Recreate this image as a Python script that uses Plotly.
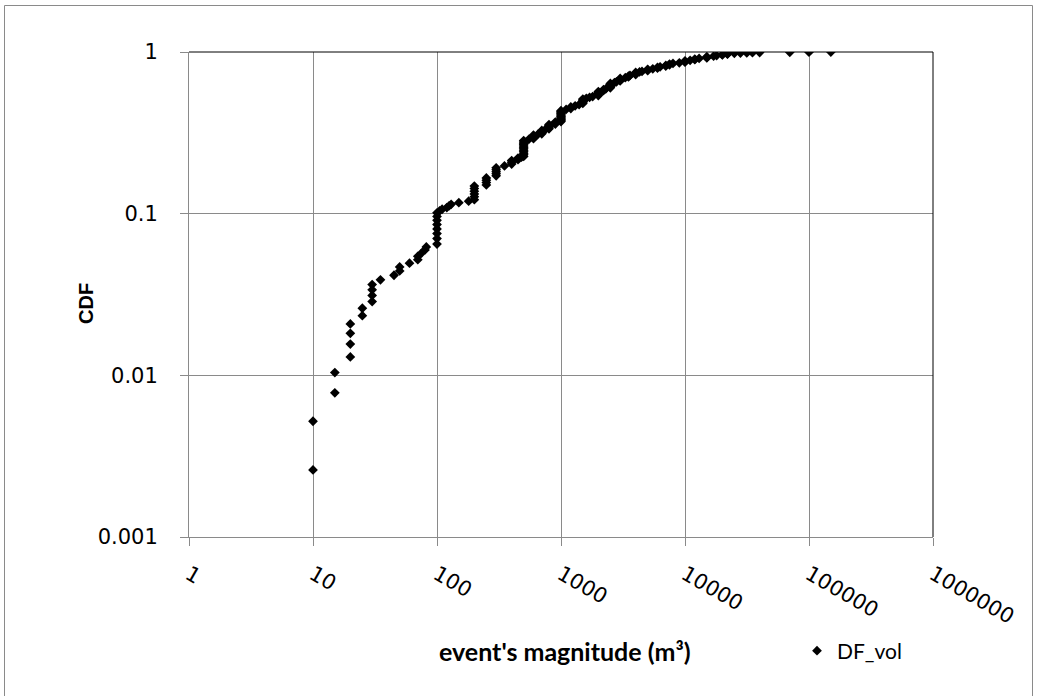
import plotly.graph_objects as go

# ---- data: event magnitude (m3) and CDF ----
vol_low = [10, 10, 15, 15, 20, 20, 20, 20, 25, 25, 30, 30, 30, 30, 35, 45, 50, 50, 60,
           70, 70, 75, 80, 82]
cdf_low = [0.0026, 0.0052, 0.0078, 0.0104, 0.0130, 0.0156, 0.0182, 0.0208, 0.0234, 0.0260,
           0.0286, 0.0312, 0.0338, 0.0364, 0.0390, 0.0416, 0.0442, 0.0468, 0.0494,
           0.0519, 0.0545, 0.0571, 0.0597, 0.0623]

vol_mid = [100, 100, 100, 100, 100, 100, 100, 100,
           105, 110, 120, 125, 130, 150, 180,
           200, 200, 200, 200, 200, 200,
           250, 250, 250, 250,
           300, 300, 300, 300, 300,
           350, 400, 400, 400, 450, 450, 480,
           500, 500, 500, 500, 500, 500, 500, 500, 500, 500, 500, 500,
           550, 600, 600, 600, 600, 650, 700, 700, 700, 700, 750,
           800, 800, 800, 800, 800, 900, 900, 900]
cdf_mid = [0.0649, 0.0701, 0.0753, 0.0805, 0.0857, 0.0909, 0.0961, 0.1013,
           0.1039, 0.1065, 0.1091, 0.1117, 0.1143, 0.1169, 0.1195,
           0.1221, 0.1273, 0.1325, 0.1377, 0.1429, 0.1481,
           0.1506, 0.1558, 0.1610, 0.1662,
           0.1714, 0.1766, 0.1818, 0.1870, 0.1922,
           0.1974, 0.2026, 0.2078, 0.2130, 0.2156, 0.2208, 0.2234,
           0.2260, 0.2312, 0.2364, 0.2416, 0.2468, 0.2519, 0.2571, 0.2623, 0.2675, 0.2727, 0.2779, 0.2831,
           0.2883, 0.2909, 0.2961, 0.3013, 0.3065, 0.3091, 0.3117, 0.3169, 0.3221, 0.3273, 0.3325,
           0.3351, 0.3403, 0.3455, 0.3506, 0.3558, 0.3584, 0.3636, 0.3688]

vol_high = [1000, 1000, 1000, 1000, 1000, 1000, 1000, 1000, 1000, 1000, 1000, 1000, 1000,
            1100, 1200, 1200, 1300, 1400,
            1500, 1500, 1500, 1500, 1500, 1600, 1700, 1800,
            2000, 2000, 2000, 2000, 2000, 2200, 2200, 2300,
            2500, 2500, 2500, 2500, 2500, 2500, 2700, 2800,
            3000, 3000, 3000, 3000, 3300, 3500, 3500, 3600,
            4000, 4000, 4000, 4000, 4300, 4500, 5000, 5000, 5000, 5500,
            6000, 6000, 6300, 7000, 7000, 7500, 7500, 8000, 9000,
            10000, 10000, 10000, 11000, 12000, 12000, 13000,
            15000, 15000, 15000, 17000, 18000, 20000, 20000, 22000, 22000,
            25000, 28000, 31500, 35000, 40000, 70000, 100000, 150000]
cdf_high = [0.3714, 0.3766, 0.3818, 0.3870, 0.3922, 0.3974, 0.4026, 0.4078, 0.4130, 0.4182, 0.4234, 0.4286, 0.4338,
            0.4416, 0.4468, 0.4571, 0.4649, 0.4727,
            0.4805, 0.4883, 0.4961, 0.5039, 0.5117, 0.5169, 0.5247, 0.5299,
            0.5377, 0.5455, 0.5532, 0.5610, 0.5688, 0.5766, 0.5844, 0.5922,
            0.6000, 0.6078, 0.6156, 0.6234, 0.6312, 0.6390, 0.6468, 0.6545,
            0.6623, 0.6701, 0.6779, 0.6857, 0.6935, 0.7013, 0.7091, 0.7169,
            0.7247, 0.7325, 0.7403, 0.7481, 0.7532, 0.7584, 0.7662, 0.7740, 0.7818, 0.7870,
            0.7948, 0.8026, 0.8104, 0.8182, 0.8260, 0.8338, 0.8416, 0.8494, 0.8571,
            0.8649, 0.8727, 0.8805, 0.8883, 0.8961, 0.9039, 0.9117,
            0.9195, 0.9273, 0.9351, 0.9429, 0.9506, 0.9584, 0.9636, 0.9688, 0.9740,
            0.9818, 0.9844, 0.9870, 0.9896, 0.9922, 0.9948, 0.9974, 1.0]

x_ticks = [1, 10, 100, 1000, 10000, 100000, 1000000]
x_ticktext = ["1", "10", "100", "1000", "10000", "100000", "1000000"]
y_ticks = [0.001, 0.01, 0.1, 1]
y_ticktext = ["0.001", "0.01", "0.1", "1"]

volumes = vol_low + vol_mid + vol_high
cdf = cdf_low + cdf_mid + cdf_high

W, H = 1037, 696
L, R, T, B = 189, 933, 52, 537  # plot area in pixels


def px(xp):
    return (xp - L) / (R - L)


def py(yp):
    return (B - yp) / (B - T)


fig = go.Figure()
fig.add_trace(go.Scatter(
    x=volumes, y=cdf, mode="markers", name="DF_vol",
    marker=dict(symbol="diamond", size=7.5, color="black", line=dict(width=0)),
))

grid = "#8a8a8a"
fig.update_layout(
    width=W, height=H,
    margin=dict(l=L, r=W - R, t=T, b=H - B, pad=0),
    paper_bgcolor="white", plot_bgcolor="white",
    showlegend=True,
    legend=dict(x=px(797), y=py(651), xanchor="left", yanchor="middle",
                font=dict(family="Lato", size=21, color="black"),
                bgcolor="rgba(0,0,0,0)", itemsizing="trace"),
    xaxis=dict(type="log", range=[0, 6], tickvals=x_ticks, ticktext=x_ticktext,
               tickangle=30, showgrid=True, gridcolor=grid, gridwidth=1,
               showline=True, linecolor=grid, linewidth=1, ticks="outside",
               ticklen=8, tickcolor=grid, ticklabelstandoff=8,
               tickfont=dict(family="DejaVu Sans", size=21, color="black"),
               zeroline=False),
    yaxis=dict(type="log", range=[-3, 0], tickvals=y_ticks, ticktext=y_ticktext,
               showgrid=True, gridcolor=grid, gridwidth=1,
               showline=True, linecolor=grid, linewidth=1, ticks="outside",
               ticklen=8, tickcolor=grid, ticklabelstandoff=18,
               tickfont=dict(family="DejaVu Sans", size=21, color="black"),
               zeroline=False),
    shapes=[
        dict(type="line", xref="x domain", yref="y domain", x0=0, x1=1, y0=1, y1=1,
             line=dict(color="black", width=1)),
        dict(type="line", xref="x domain", yref="y domain", x0=1, x1=1, y0=0, y1=1,
             line=dict(color="black", width=1)),
        dict(type="rect", xref="paper", yref="paper", x0=px(4.5), x1=px(1032.5),
             y0=py(700), y1=py(5.5), line=dict(color="#8a8a8a", width=1),
             fillcolor="rgba(0,0,0,0)", layer="below"),
    ],
    annotations=[
        dict(text="<b>event's magnitude (m³)</b>", xref="paper", yref="paper",
             x=px(565), y=py(651), xanchor="center", yanchor="middle", showarrow=False,
             font=dict(family="Lato", size=25, color="black")),
        dict(text="<b>CDF</b>", xref="paper", yref="paper", textangle=-90,
             x=px(86), y=py(304), xanchor="center", yanchor="middle", showarrow=False,
             font=dict(family="Liberation Sans", size=20, color="black")),
    ],
)

fig.write_html("out.html")
